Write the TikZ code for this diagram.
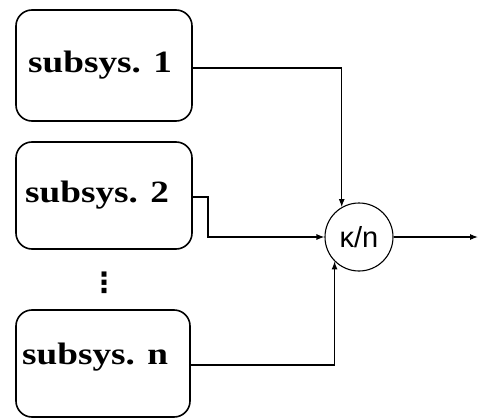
\documentclass[tikz,border=0pt]{standalone}
\usepackage{fontspec}
\setmainfont{Liberation Serif}
\newfontfamily\boxfont[FakeStretch=1.2]{Liberation Serif}
\newfontfamily\kfont{Liberation Sans}
\newfontfamily\symfont{DejaVu Sans}
\usetikzlibrary{arrows.meta}
\begin{document}
\begin{tikzpicture}[x=1pt,y=-1pt,
  subbox/.style={draw, line width=1.6pt, rounded corners=16pt, minimum width=176pt, inner sep=0pt},
  boxtext/.style={anchor=base west, inner sep=0pt, font=\boxfont\bfseries\fontsize{31}{31}\selectfont},
  conn/.style={line width=1.1pt},
  arr/.style={conn, -{Latex[length=8pt,width=6pt]}}]
\useasboundingbox (0,0) rectangle (479,420);
\node[subbox, minimum height=111pt] (b1) at (104,65.5) {};
\node[subbox, minimum height=107pt] (b2) at (104,195.5) {};
\node[subbox, minimum width=174pt, minimum height=107pt] (bn) at (103,363.5) {};
\node[boxtext] (t1) at (28,73) {subsys. 1};
\node[boxtext] (t2) at (25,202) {subsys. 2};
\node[boxtext] (tn) at (22,364) {subsys. n};
\node[draw, circle, line width=1.1pt, minimum size=68pt, inner sep=0pt,
      font=\kfont\fontsize{29}{29}\selectfont] (k) at (359,237) {κ/n};
\node[inner sep=0pt, font=\symfont\bfseries\fontsize{28}{28}\selectfont] (dots) at (104,283) {⋮};
\coordinate (out) at (478,237);
\draw[arr] (b1.east |- 0,68) -| (k.120);
\draw[arr] (b2.east |- 0,197) -- (208,197) |- (k.west);
\draw[arr] (bn.east |- 0,365) -| (k.225);
\draw[arr] (k.east) -- (out);
\end{tikzpicture}
\end{document}
